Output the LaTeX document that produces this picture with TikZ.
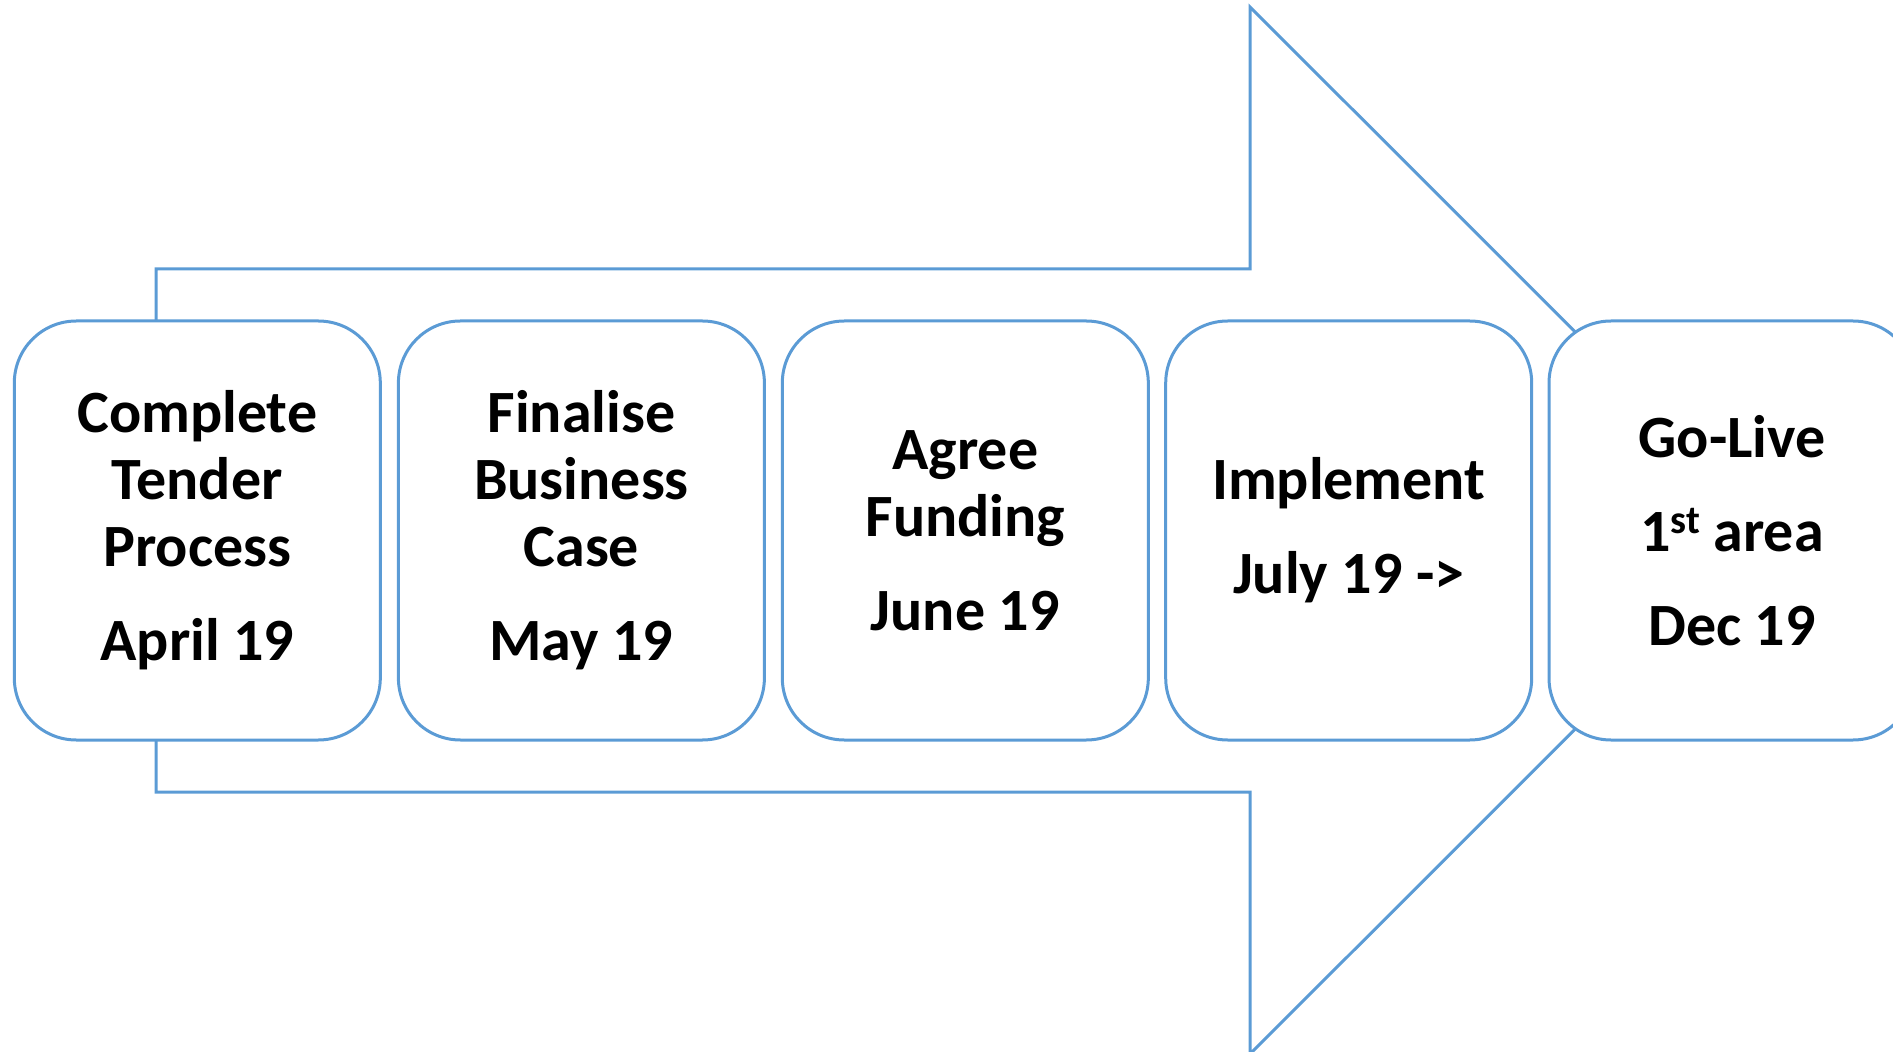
\documentclass[tikz,border=0pt]{standalone}
\usepackage{fontspec}
\setmainfont{Carlito}
\definecolor{arrowblue}{HTML}{5B9BD5}
\newcommand{\ordst}{\raisebox{9pt}{\fontsize{20}{20}\selectfont st}}
\tikzset{stage/.style={draw=arrowblue,line width=1.5pt,fill=white,rounded corners=31pt,
	minimum width=183pt,minimum height=209.5pt,inner sep=0pt,align=center,
	font=\bfseries\fontsize{30}{33.5}\selectfont}}

\begin{document}
\begin{tikzpicture}[x=.5pt,y=-.5pt]
	\useasboundingbox (0,0) rectangle (1893,1052);
	\clip (0,0) rectangle (1893,1052);
	\draw [arrowblue,line width=1.5pt] (156,269)-- (1250,269)-- (1250,7)-- (1774,530.5)-- (1250,1054)-- (1250,792)-- (156,792)--cycle;
	\node [stage] (tender) at (197.3,530.5) {Complete\\Tender\\Process\\[13.5pt]April 19};
	\node [stage] (business) at (581.4,530.5) {Finalise\\Business\\Case\\[13.5pt]May 19};
	\node [stage] (funding) at (965.3,530.5) {Agree\\Funding\\[13.5pt]June 19};
	\node [stage] (implement) at (1348.7,530.5) {Implement\\[13.5pt]July 19 ->};
	\node [stage] (golive) at (1732,530.5) {Go-Live\\[13.5pt]1\ordst{} area\\[13.5pt]Dec 19};
\end{tikzpicture}
\end{document}
